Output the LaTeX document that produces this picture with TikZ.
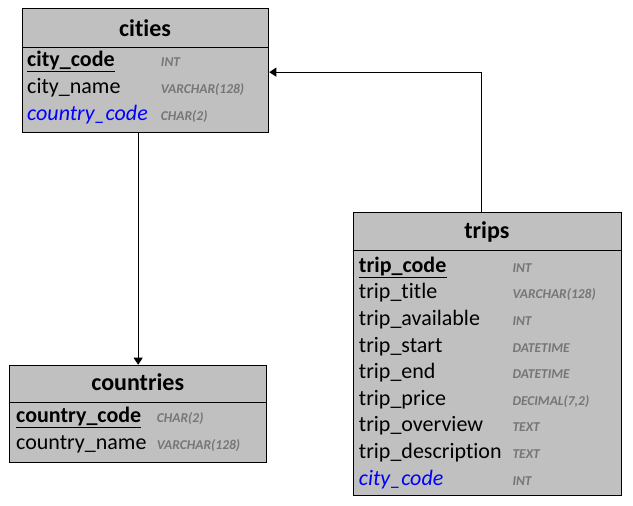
\documentclass[tikz,border=0pt]{standalone}
\usepackage{fontspec}
\setmainfont{Carlito}[RawFeature={-liga;-clig;-dlig}]
\usetikzlibrary{arrows.meta}
\definecolor{tblfill}{RGB}{192,192,192}
\definecolor{typegray}{RGB}{118,118,118}
\definecolor{fkblue}{RGB}{0,0,255}
\begin{document}
\begin{tikzpicture}[x=1pt,y=-1pt,
  tbl/.style={draw=black, line width=1pt, fill=tblfill, inner sep=0pt, anchor=north west},
  sep/.style={draw=black, line width=1pt},
  ttl/.style={font=\fontsize{24}{28}\selectfont\bfseries, anchor=base, inner sep=0pt},
  fld/.style={font=\fontsize{22}{26}\selectfont, anchor=base west, inner sep=0pt},
  pk/.style={fld, font=\fontsize{22}{26}\selectfont\bfseries},
  fkf/.style={fld, font=\fontsize{22}{26}\selectfont\itshape, text=fkblue},
  typ/.style={font=\fontsize{13.5}{15}\selectfont\bfseries\itshape, text=typegray, anchor=base west, inner sep=0pt},
  uline/.style={draw=black, line width=1.3pt},
  fk/.style={draw=black, line width=1pt, -{Triangle[width=9pt,length=7pt]}}]
\path[use as bounding box, fill=white] (0,0) rectangle (633,506);

% cities
\node[tbl, minimum width=246.6pt, minimum height=124.3pt] (cities) at (21.7,8) {};
\draw[sep] ([yshift=-39.3pt]cities.north west) -- ([yshift=-39.3pt]cities.north east);
\node[ttl] (citiesT) at (145,36) {cities};
\node[pk] (c1) at (27,66.7) {city\_code};
\node[typ] (c1t) at (160.7,66.7) {INT};
\draw[uline] ([yshift=-5pt]c1.base west) -- ([yshift=-5pt]c1.base east);
\node[fld] (c2) at (27,93.5) {city\_name};
\node[typ] (c2t) at (160.7,93.5) {VARCHAR(128)};
\node[fkf] (c3) at (27,120.3) {country\_code};
\node[typ] (c3t) at (160.7,120.3) {CHAR(2)};

% countries
\node[tbl, minimum width=256.7pt, minimum height=97.6pt] (countries) at (9.3,364.7) {};
\draw[sep] ([yshift=-37.6pt]countries.north west) -- ([yshift=-37.6pt]countries.north east);
\node[ttl] (countriesT) at (137.7,390) {countries};
\node[pk] (k1) at (16,422.7) {country\_code};
\node[typ] (k1t) at (156.7,422.7) {CHAR(2)};
\draw[uline] ([yshift=-5pt]k1.base west) -- ([yshift=-5pt]k1.base east);
\node[fld] (k2) at (16,449.3) {country\_name};
\node[typ] (k2t) at (156.7,449.3) {VARCHAR(128)};

% trips
\node[tbl, minimum width=268.3pt, minimum height=283pt] (trips) at (352.7,212.3) {};
\draw[sep] ([yshift=-38.4pt]trips.north west) -- ([yshift=-38.4pt]trips.north east);
\node[ttl] (tripsT) at (486.9,238.3) {trips};
\node[pk] (t1) at (358.7,272.3) {trip\_code};
\node[typ] (t1t) at (512.3,272.3) {INT};
\draw[uline] ([yshift=-5pt]t1.base west) -- ([yshift=-5pt]t1.base east);
\node[fld] (t2) at (358.7,298.9) {trip\_title};
\node[typ] (t2t) at (512.3,298.9) {VARCHAR(128)};
\node[fld] (t3) at (358.7,325.5) {trip\_available};
\node[typ] (t3t) at (512.3,325.5) {INT};
\node[fld] (t4) at (358.7,352.1) {trip\_start};
\node[typ] (t4t) at (512.3,352.1) {DATETIME};
\node[fld] (t5) at (358.7,378.7) {trip\_end};
\node[typ] (t5t) at (512.3,378.7) {DATETIME};
\node[fld] (t6) at (358.7,405.3) {trip\_price};
\node[typ] (t6t) at (512.3,405.3) {DECIMAL(7,2)};
\node[fld] (t7) at (358.7,431.9) {trip\_overview};
\node[typ] (t7t) at (512.3,431.9) {TEXT};
\node[fld] (t8) at (358.7,458.5) {trip\_description};
\node[typ] (t8t) at (512.3,458.5) {TEXT};
\node[fkf] (t9) at (358.7,485.1) {city\_code};
\node[typ] (t9t) at (512.3,485.1) {INT};

% connectors
\draw[fk] (cities.south -| countries.north) -- (countries.north);
\draw[fk] ([xshift=-6.2pt]trips.north) |- ([yshift=-1.5pt]cities.east);
\end{tikzpicture}
\end{document}
